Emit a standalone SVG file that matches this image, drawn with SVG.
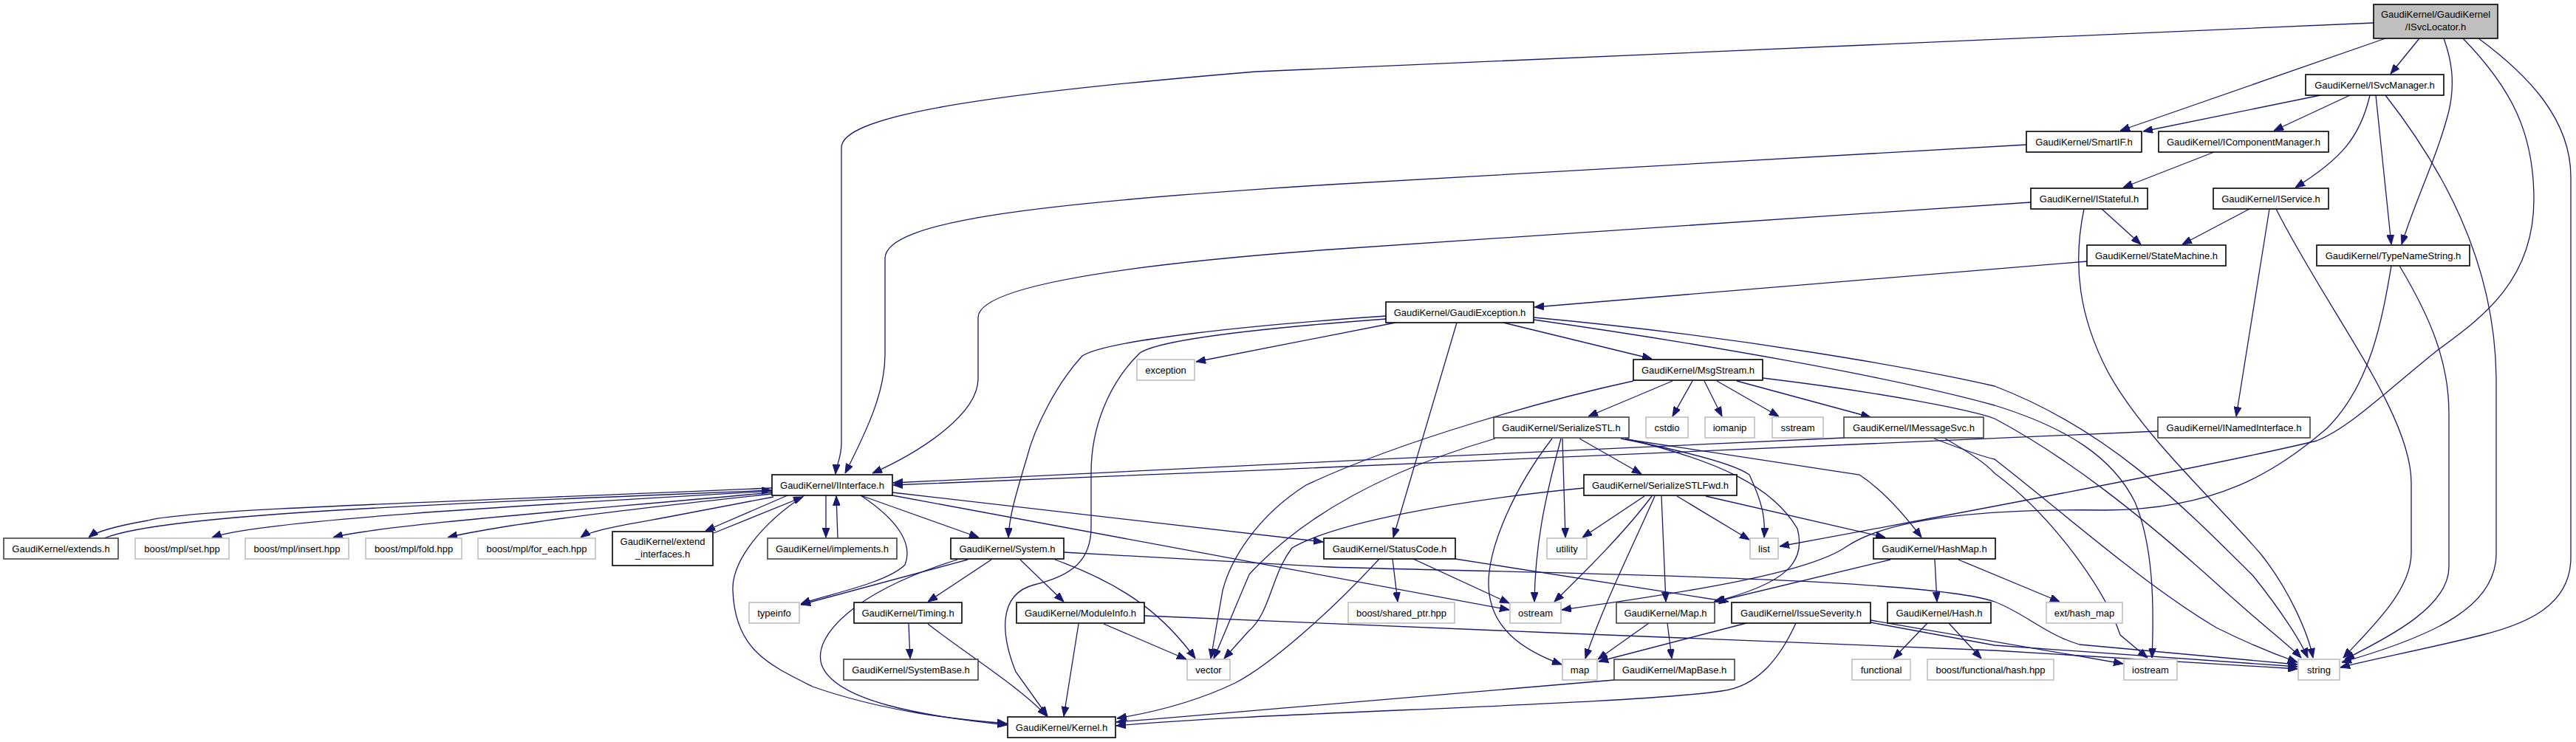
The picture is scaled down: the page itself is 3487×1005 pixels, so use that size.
<svg xmlns="http://www.w3.org/2000/svg" width="3487" height="1005" viewBox="0 0 3487 1005">
<style>
rect{fill:#fff;stroke:#000;stroke-width:1.6}
.g rect{stroke:#bfbfbf}
.d rect{stroke:#404040}
.r rect{fill:#bfbfbf}
text{font-family:"Liberation Sans",Arial,Helvetica,sans-serif;font-size:13px;text-anchor:middle;fill:#000}
#edges path{fill:none;stroke:#191970;stroke-width:1.3;marker-end:url(#a)}
</style>
<defs>
<marker id="a" markerWidth="13" markerHeight="10" refX="13" refY="5" orient="auto" markerUnits="userSpaceOnUse">
<path d="M0,0 L13,5 L0,10 z" fill="#191970" stroke="#191970" stroke-width="1"/>
</marker>
</defs>
<rect x="0" y="0" width="3487" height="1005" style="fill:#fff;stroke:none"/>
<g id="edges">
<path d="M3213,31 L1700,97 C1300,130 1139,160 1139,200 L1139,600 C1139,620 1132,630 1131,642"/>
<path d="M3229,52 L2870,177"/>
<path d="M3275,52 L3236,100"/>
<path d="M3308,52 C3318,80 3324,110 3315,150 C3300,210 3270,270 3251,331"/>
<path d="M3334,52 C3400,120 3430,180 3430,270 C3430,380 3360,430 3300,474 C3230,530 3180,580 3136,597 C3000,630 2600,705 2409,740"/>
<path d="M3355,52 C3420,100 3480,160 3480,240 L3480,755 C3480,820 3420,845 3360,860 C3280,880 3210,893 3168,904"/>
<path d="M3141,129 L2901,178"/>
<path d="M3181,129 L3078,177"/>
<path d="M3208,129 C3195,185 3170,215 3107,254"/>
<path d="M3216,129 L3237,331"/>
<path d="M3229,129 C3300,220 3379,350 3379,517 L3379,750 C3379,820 3300,860 3170,897"/>
<path d="M2997,206 L2874,254"/>
<path d="M2743,196 L1800,250 C1400,275 1198,300 1198,350 L1198,480 C1198,530 1175,580 1144,641"/>
<path d="M2749,274 L1800,338 C1500,360 1324,390 1324,430 L1324,513 C1324,560 1250,610 1181,641"/>
<path d="M2845,283 L2898,331"/>
<path d="M2821,283 C2805,360 2815,430 2853,503 C2900,590 3000,680 3060,750 C3100,800 3125,860 3131,891"/>
<path d="M3045,283 L2954,331"/>
<path d="M3072,283 L3027,564"/>
<path d="M3081,283 C3150,420 3264,560 3264,654 L3264,749 C3264,800 3210,850 3172,891"/>
<path d="M2825,354 L2077,416"/>
<path d="M3248,360 C3290,430 3315,490 3315,560 L3315,768 C3315,820 3240,860 3174,893"/>
<path d="M3237,360 C3225,430 3210,520 3150,580 C3080,640 3000,690 2850,691 C2700,689 2560,700 2500,740 C2450,775 2300,800 2114,826"/>
<path d="M1889,437 L1619,490"/>
<path d="M2035,437 L2236,486"/>
<path d="M1972,437 L1886,728"/>
<path d="M1876,428 C1700,440 1500,460 1465,482 C1430,520 1400,580 1390,620 C1375,670 1366,700 1365,728"/>
<path d="M1876,432 C1700,445 1570,460 1543,478 C1500,520 1477,580 1477,640 L1477,714 C1477,760 1450,780 1400,792 C1350,805 1355,860 1375,910 L1418,970"/>
<path d="M2076,430 C2350,455 2600,500 2700,523 C2850,580 2950,680 3050,780 C3090,830 3115,870 3124,891"/>
<path d="M2076,433 C2300,465 2560,510 2700,549 C2800,580 2860,620 2890,680 C2915,740 2916,820 2913,891"/>
<path d="M2386,512 C2560,533 2674,557 2700,567 C2800,620 2900,700 3000,790 C3060,845 3100,875 3115,891"/>
<path d="M2618,594 C2660,610 2690,620 2700,622 C2800,700 2900,790 3000,850 C3050,875 3090,890 3110,897"/>
<path d="M2633,594 C2670,615 2690,630 2700,641 C2780,700 2850,800 2870,860 L2907,891"/>
<path d="M2264,516 L2150,564"/>
<path d="M2291,516 L2264,564"/>
<path d="M2307,516 L2331,564"/>
<path d="M2324,516 L2408,564"/>
<path d="M2351,516 L2532,565"/>
<path d="M2211,516 C2100,540 1900,595 1768,657 C1700,700 1665,760 1655,800 L1639,892"/>
<path d="M2138,594 L2222,642"/>
<path d="M2115,594 L2119,728"/>
<path d="M2194,594 C2300,615 2350,630 2368,643 C2385,680 2390,700 2388,728"/>
<path d="M2200,594 C2330,625 2400,660 2433,716 C2445,760 2420,790 2320,815"/>
<path d="M2201,595 L2517,643 C2550,665 2580,700 2601,728"/>
<path d="M2101,594 C2050,660 2015,740 2015,790 C2015,850 2060,880 2114,900"/>
<path d="M2113,594 C2090,680 2078,740 2077,815"/>
<path d="M2024,594 C1883,635 1768,694 1691,778 L1643,892"/>
<path d="M2226,672 L2142,728"/>
<path d="M2236,672 C2200,720 2150,770 2104,815"/>
<path d="M2240,672 C2210,740 2170,820 2146,892"/>
<path d="M2249,672 L2255,815"/>
<path d="M2270,672 L2368,731"/>
<path d="M2309,672 L2552,728"/>
<path d="M2144,661 C1960,679 1806,709 1749,742 C1720,780 1720,830 1690,855 L1657,892"/>
<path d="M2559,758 L2322,815"/>
<path d="M2619,758 L2622,815"/>
<path d="M2651,758 L2788,815"/>
<path d="M2609,844 L2563,892"/>
<path d="M2638,844 L2682,892"/>
<path d="M2232,844 L2163,893"/>
<path d="M2257,844 L2263,892"/>
<path d="M2364,844 L2164,896"/>
<path d="M2431,844 C2410,890 2380,930 2330,936 C2200,955 1700,965 1511,983"/>
<path d="M2532,840 L2874,899"/>
<path d="M2532,843 L2700,874 L3110,903"/>
<path d="M2185,921 C2100,929 1800,955 1511,978"/>
<path d="M1885,757 L1892,815"/>
<path d="M1913,757 L2043,817"/>
<path d="M1970,757 L2340,815"/>
<path d="M1867,757 C1800,830 1720,900 1672,925 C1620,950 1560,965 1512,973"/>
<path d="M1165,671 L1325,728"/>
<path d="M1208,667 L1791,734"/>
<path d="M1208,671 L2043,826"/>
<path d="M1165,671 C1221,708 1235,740 1225,765 C1200,790 1120,805 1084,818"/>
<path d="M1089,671 C1032,708 990,760 992,800 C995,880 1040,900 1100,930 C1200,965 1300,975 1363,980"/>
<path d="M1118,671 L1118,728"/>
<path d="M1134,729 L1132,672"/>
<path d="M1045,661 C600,680 250,690 200,705 C160,712 130,720 120,728"/>
<path d="M141,729 C200,705 400,690 900,670 L1044,664"/>
<path d="M1045,665 C700,685 350,705 287,728"/>
<path d="M1045,667 C800,690 520,710 451,728"/>
<path d="M1045,669 C850,690 680,710 606,728"/>
<path d="M1047,673 L900,701 C850,710 800,718 786,728"/>
<path d="M1066,671 L955,719"/>
<path d="M966,722 L1087,673"/>
<path d="M1310,758 L1084,819"/>
<path d="M1342,758 L1256,815"/>
<path d="M1381,758 L1440,815"/>
<path d="M1428,758 C1531,795 1580,840 1618,892"/>
<path d="M1296,758 C1158,801 1100,860 1112,900 C1130,950 1250,970 1363,982"/>
<path d="M1440,748 L1800,768 C2000,775 2600,780 2700,815 C2740,830 2770,860 2815,873 L3110,900"/>
<path d="M1230,845 L1232,892"/>
<path d="M1256,845 C1300,880 1380,930 1417,970"/>
<path d="M1460,845 L1440,970"/>
<path d="M1494,845 L1606,893"/>
<path d="M1549,834 L2100,857 L2700,881 L3110,906"/>
<path d="M2496,593 C2000,615 1700,630 1209,654"/>
<path d="M2921,584 C2500,600 1800,635 1209,657"/>
</g>
<g id="n1" class="r"><rect x="3213" y="6" width="168" height="46"/><text x="3297" y="24">GaudiKernel/GaudiKernel</text><text x="3297" y="41">/ISvcLocator.h</text></g>
<g id="n2"><rect x="3121" y="101" width="187" height="28"/><text x="3214.5" y="120">GaudiKernel/ISvcManager.h</text></g>
<g id="n3"><rect x="2743" y="178" width="156" height="28"/><text x="2821" y="197">GaudiKernel/SmartIF.h</text></g>
<g id="n4"><rect x="2922" y="178" width="230" height="28"/><text x="3037" y="197">GaudiKernel/IComponentManager.h</text></g>
<g id="n5"><rect x="2749" y="255" width="158" height="28"/><text x="2828" y="274">GaudiKernel/IStateful.h</text></g>
<g id="n6"><rect x="2996" y="255" width="156" height="28"/><text x="3074" y="274">GaudiKernel/IService.h</text></g>
<g id="n7"><rect x="2825" y="332" width="188" height="28"/><text x="2919" y="351">GaudiKernel/StateMachine.h</text></g>
<g id="n8"><rect x="3136" y="332" width="207" height="28"/><text x="3239.5" y="351">GaudiKernel/TypeNameString.h</text></g>
<g id="n9"><rect x="1876" y="409" width="200" height="28"/><text x="1976" y="428">GaudiKernel/GaudiException.h</text></g>
<g id="n10" class="g"><rect x="1539" y="487" width="78" height="28"/><text x="1578" y="506">exception</text></g>
<g id="n11"><rect x="2211" y="487" width="175" height="28"/><text x="2298.5" y="506">GaudiKernel/MsgStream.h</text></g>
<g id="n12" class="d"><rect x="2022" y="565" width="183" height="28"/><text x="2113.5" y="584">GaudiKernel/SerializeSTL.h</text></g>
<g id="n13" class="g"><rect x="2228" y="565" width="57" height="28"/><text x="2256.5" y="584">cstdio</text></g>
<g id="n14" class="g"><rect x="2308" y="565" width="67" height="28"/><text x="2341.5" y="584">iomanip</text></g>
<g id="n15" class="g"><rect x="2399" y="565" width="69" height="28"/><text x="2433.5" y="584">sstream</text></g>
<g id="n16" class="d"><rect x="2496" y="565" width="189" height="28"/><text x="2590.5" y="584">GaudiKernel/IMessageSvc.h</text></g>
<g id="n17" class="d"><rect x="2921" y="565" width="206" height="28"/><text x="3024" y="584">GaudiKernel/INamedInterface.h</text></g>
<g id="n18"><rect x="1045" y="643" width="163" height="28"/><text x="1126.5" y="662">GaudiKernel/IInterface.h</text></g>
<g id="n19"><rect x="2144" y="643" width="207" height="28"/><text x="2247.5" y="662">GaudiKernel/SerializeSTLFwd.h</text></g>
<g id="n20" class="d"><rect x="5" y="729" width="155" height="28"/><text x="82.5" y="748">GaudiKernel/extends.h</text></g>
<g id="n21" class="g"><rect x="183" y="729" width="127" height="28"/><text x="246.5" y="748">boost/mpl/set.hpp</text></g>
<g id="n22" class="g"><rect x="332" y="729" width="140" height="28"/><text x="402" y="748">boost/mpl/insert.hpp</text></g>
<g id="n23" class="g"><rect x="495" y="729" width="130" height="28"/><text x="560" y="748">boost/mpl/fold.hpp</text></g>
<g id="n24" class="g"><rect x="647" y="729" width="159" height="28"/><text x="726.5" y="748">boost/mpl/for_each.hpp</text></g>
<g id="n25"><rect x="829" y="720" width="136" height="46"/><text x="897" y="738">GaudiKernel/extend</text><text x="897" y="755">_interfaces.h</text></g>
<g id="n26" class="d"><rect x="1039" y="729" width="175" height="28"/><text x="1126.5" y="748">GaudiKernel/implements.h</text></g>
<g id="n27"><rect x="1287" y="729" width="153" height="28"/><text x="1363.5" y="748">GaudiKernel/System.h</text></g>
<g id="n28"><rect x="1792" y="729" width="178" height="28"/><text x="1881" y="748">GaudiKernel/StatusCode.h</text></g>
<g id="n29" class="g"><rect x="2094" y="729" width="54" height="28"/><text x="2121" y="748">utility</text></g>
<g id="n30" class="g"><rect x="2369" y="729" width="38" height="28"/><text x="2388" y="748">list</text></g>
<g id="n31"><rect x="2536" y="729" width="165" height="28"/><text x="2618.5" y="748">GaudiKernel/HashMap.h</text></g>
<g id="n32" class="g"><rect x="1014" y="816" width="68" height="28"/><text x="1048" y="835">typeinfo</text></g>
<g id="n33"><rect x="1156" y="816" width="146" height="28"/><text x="1229" y="835">GaudiKernel/Timing.h</text></g>
<g id="n34"><rect x="1376" y="816" width="173" height="28"/><text x="1462.5" y="835">GaudiKernel/ModuleInfo.h</text></g>
<g id="n35" class="g"><rect x="1825" y="816" width="144" height="28"/><text x="1897" y="835">boost/shared_ptr.hpp</text></g>
<g id="n36" class="g"><rect x="2044" y="816" width="69" height="28"/><text x="2078.5" y="835">ostream</text></g>
<g id="n37" class="d"><rect x="2188" y="816" width="133" height="28"/><text x="2254.5" y="835">GaudiKernel/Map.h</text></g>
<g id="n38"><rect x="2344" y="816" width="188" height="28"/><text x="2438" y="835">GaudiKernel/IssueSeverity.h</text></g>
<g id="n39"><rect x="2555" y="816" width="140" height="28"/><text x="2625" y="835">GaudiKernel/Hash.h</text></g>
<g id="n40" class="g"><rect x="2770" y="816" width="103" height="28"/><text x="2821.5" y="835">ext/hash_map</text></g>
<g id="n41" class="d"><rect x="1142" y="893" width="182" height="28"/><text x="1233" y="912">GaudiKernel/SystemBase.h</text></g>
<g id="n42" class="g"><rect x="1607" y="893" width="58" height="28"/><text x="1636" y="912">vector</text></g>
<g id="n43" class="g"><rect x="2115" y="893" width="47" height="28"/><text x="2138.5" y="912">map</text></g>
<g id="n44" class="d"><rect x="2185" y="893" width="163" height="28"/><text x="2266.5" y="912">GaudiKernel/MapBase.h</text></g>
<g id="n45" class="g"><rect x="2507" y="893" width="79" height="28"/><text x="2546.5" y="912">functional</text></g>
<g id="n46" class="g"><rect x="2609" y="893" width="171" height="28"/><text x="2694.5" y="912">boost/functional/hash.hpp</text></g>
<g id="n47" class="g"><rect x="2875" y="893" width="72" height="28"/><text x="2911" y="912">iostream</text></g>
<g id="n48" class="g"><rect x="3111" y="893" width="56" height="28"/><text x="3139" y="912">string</text></g>
<g id="n49"><rect x="1364" y="971" width="146" height="28"/><text x="1437" y="990">GaudiKernel/Kernel.h</text></g>
</svg>
